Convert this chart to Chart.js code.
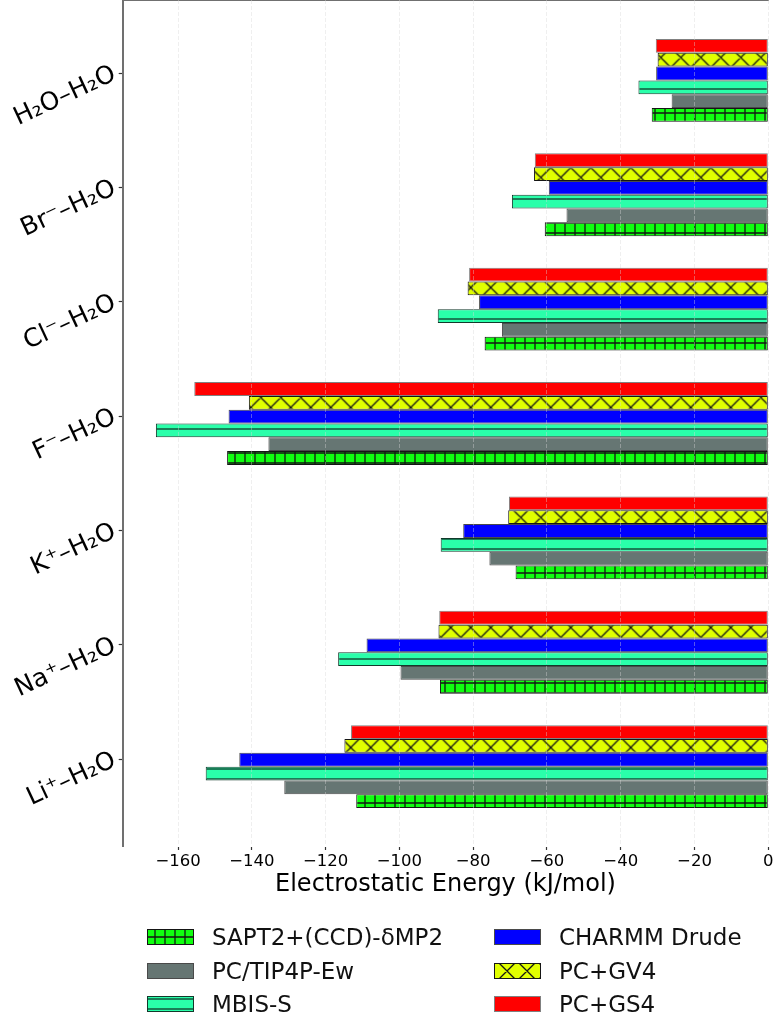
<!DOCTYPE html>
<html><head><meta charset="utf-8">
<script src="https://cdn.jsdelivr.net/npm/chart.js@4/dist/chart.umd.min.js"></script>
<style>
html,body{margin:0;padding:0;background:#fff;width:773px;height:1013px;overflow:hidden;}
#wrap{position:absolute;left:0;top:0;width:773px;height:905px;}
#legend{position:absolute;left:0;top:0;width:773px;height:1013px;font-family:'DejaVu Sans';font-size:23px;color:#111;}
.item{position:absolute;height:34px;display:flex;align-items:center;white-space:nowrap;}
.item canvas{width:47px;height:16px;margin-right:18px;display:block;}
</style></head><body>
<div id="wrap"><canvas id="c" width="773" height="905" style="width:773px;height:905px"></canvas></div>
<div id="legend"></div>
<script>
// ---- data ----
const categories = ['H₂O–H₂O','Br⁻–H₂O','Cl⁻–H₂O','F⁻–H₂O','K⁺–H₂O','Na⁺–H₂O','Li⁺–H₂O'];
const seriesNames = ['SAPT2+(CCD)-δMP2','PC/TIP4P-Ew','MBIS-S','CHARMM Drude','PC+GV4','PC+GS4'];
const sapt   = [-31.6, -60.6, -76.9, -146.7, -68.5, -89.0, -111.7];
const tip4p  = [-26.2, -54.7, -72.2, -135.5, -75.6, -99.7, -131.2];
const mbis   = [-35.2, -69.5, -89.6, -166.0, -88.8, -116.6, -152.5];
const charmm = [-30.4, -59.5, -78.4, -146.3, -82.7, -108.9, -143.4];
const gv4    = [-30.0, -63.5, -81.5, -140.8, -70.5, -89.4, -114.9];
const gs4    = [-30.5, -63.3, -81.1, -155.6, -70.3, -89.2, -113.1];
const xTicks = [-160, -140, -120, -100, -80, -60, -40, -20, 0];
const xTitle = 'Electrostatic Energy (kJ/mol)';

// ---- styles ----
const styles = {
  'SAPT2+(CCD)-δMP2': {fill:'#10ff10', line:'#151515', kind:'+', ox:0, oy:8},
  'PC/TIP4P-Ew':      {fill:'#667673', line:'#4a4a4a', kind:null},
  'MBIS-S':           {fill:'#2affaa', line:'#12392b', kind:'-', ox:0, oy:4},
  'CHARMM Drude':     {fill:'#0000ff', line:'#4a4a4a', kind:null},
  'PC+GV4':           {fill:'#e1ff00', line:'#151515', kind:'x', ox:10.7, oy:7.5},
  'PC+GS4':           {fill:'#ff0000', line:'#808080', kind:null}
};
const seriesData = {'SAPT2+(CCD)-δMP2':sapt,'PC/TIP4P-Ew':tip4p,'MBIS-S':mbis,'CHARMM Drude':charmm,'PC+GV4':gv4,'PC+GS4':gs4};

function makePattern(ctx, st, ox, oy) {
  if (!st.kind) return st.fill;
  const c = document.createElement('canvas');
  const w = st.kind === 'x' ? 20 : 10, h = w;
  c.width = w; c.height = h;
  const g = c.getContext('2d');
  g.fillStyle = st.fill; g.fillRect(0, 0, w, h);
  g.strokeStyle = st.line; g.lineWidth = 1.3;
  g.beginPath();
  if (st.kind === '+') { g.moveTo(0,5); g.lineTo(10,5); g.moveTo(5,0); g.lineTo(5,10); }
  if (st.kind === '-') { g.moveTo(0,5); g.lineTo(10,5); }
  if (st.kind === 'x') {
    for (let dx = -20; dx <= 20; dx += 20) for (let dy = -20; dy <= 20; dy += 20) {
      g.moveTo(dx, dy); g.lineTo(dx+20, dy+20);
      g.moveTo(dx, dy+20); g.lineTo(dx+20, dy);
    }
  }
  g.stroke();
  const p = ctx.createPattern(c, 'repeat');
  p.setTransform(new DOMMatrix([1,0,0,1,ox,oy]));
  return p;
}

const canvas = document.getElementById('c');
const ctx = canvas.getContext('2d');
const drawOrder = ['PC+GS4','PC+GV4','CHARMM Drude','MBIS-S','PC/TIP4P-Ew','SAPT2+(CCD)-δMP2'];
const tickShift = 0.0647;

const datasets = drawOrder.map(name => {
  const st = styles[name];
  return {
    label: name,
    data: seriesData[name],
    backgroundColor: makePattern(ctx, st, st.ox || 0, st.oy || 0),
    borderColor: st.line,
    borderWidth: 1,
    borderSkipped: false,
    categoryPercentage: 0.724,
    barPercentage: 1.0
  };
});

new Chart(ctx, {
  type: 'bar',
  data: { labels: categories.map((_, i) => i), datasets },
  options: {
    indexAxis: 'y',
    responsive: false,
    animation: false,
    devicePixelRatio: 1,
    layout: { padding: 0 },
    plugins: { legend: { display: false }, tooltip: { enabled: false } },
    scales: {
      x: {
        type: 'linear', min: -175, max: 0, offset: false,
        afterBuildTicks: s => { s.ticks = xTicks.map(v => ({ value: v })); },
        ticks: {
          callback: v => v < 0 ? '\u2212' + Math.abs(v) : String(v),
          font: { family: 'DejaVu Sans', size: 16.5 }, color: '#000',
          padding: 2, maxRotation: 0, autoSkip: false
        },
        grid: { z: 1, offset: false, color: 'rgba(215,215,215,0.4)', lineWidth: 1, tickColor: '#333', tickLength: 4, tickWidth: 1.2, tickBorderDash: [] },
        border: { display: true, color: '#707070', width: 2, dash: [4, 2] },
        title: { display: true, text: xTitle, font: { family: 'DejaVu Sans', size: 24 }, color: '#000', padding: { top: 0, bottom: 6 } },
        afterFit: s => { s.height = 59; s.paddingLeft = 0; s.paddingRight = 4.7; }
      },
      y: {
        type: 'linear', reverse: true, min: -0.703, max: 6.694, offset: false,
        afterBuildTicks: s => { s.ticks = categories.map((c, i) => ({ value: i - tickShift })); },
        ticks: {
          callback: (v, i) => categories[i],
          minRotation: 25, maxRotation: 25, autoSkip: false,
          font: { family: 'DejaVu Sans', size: 25 }, color: '#000', padding: 4
        },
        grid: { display: true, offset: false, drawOnChartArea: false, drawTicks: true, tickLength: 4, tickColor: '#333', tickWidth: 1.2 },
        border: { display: true, color: '#707070', width: 2 },
        afterFit: s => { s.width = 122.7; s.paddingTop = 0; s.paddingBottom = 0; }
      }
    }
  }
});

// ---- legend (column-major, 2 columns x 3 rows) ----
const legend = document.getElementById('legend');
const colSwatchX = [147, 494];
const rowCenterY = [937, 971, 1004];
seriesNames.forEach((name, i) => {
  const col = Math.floor(i / 3), row = i % 3;
  const item = document.createElement('div');
  item.className = 'item';
  item.style.left = colSwatchX[col] + 'px';
  item.style.top = (rowCenterY[row] - 17) + 'px';
  const sw = document.createElement('canvas');
  sw.width = 47; sw.height = 16;
  const g = sw.getContext('2d');
  const st = styles[name];
  g.fillStyle = makePattern(g, st, st.kind === 'x' ? 3 : (st.kind === '+' ? 3 : 0), st.kind === 'x' ? -2 : (st.kind === '-' ? -2 : 3));
  g.fillRect(0, 0, 47, 16);
  g.strokeStyle = st.line; g.lineWidth = 1;
  g.strokeRect(0.5, 0.5, 46, 15);
  const t = document.createElement('span');
  t.textContent = name;
  item.appendChild(sw); item.appendChild(t);
  legend.appendChild(item);
});
</script>
</body></html>
